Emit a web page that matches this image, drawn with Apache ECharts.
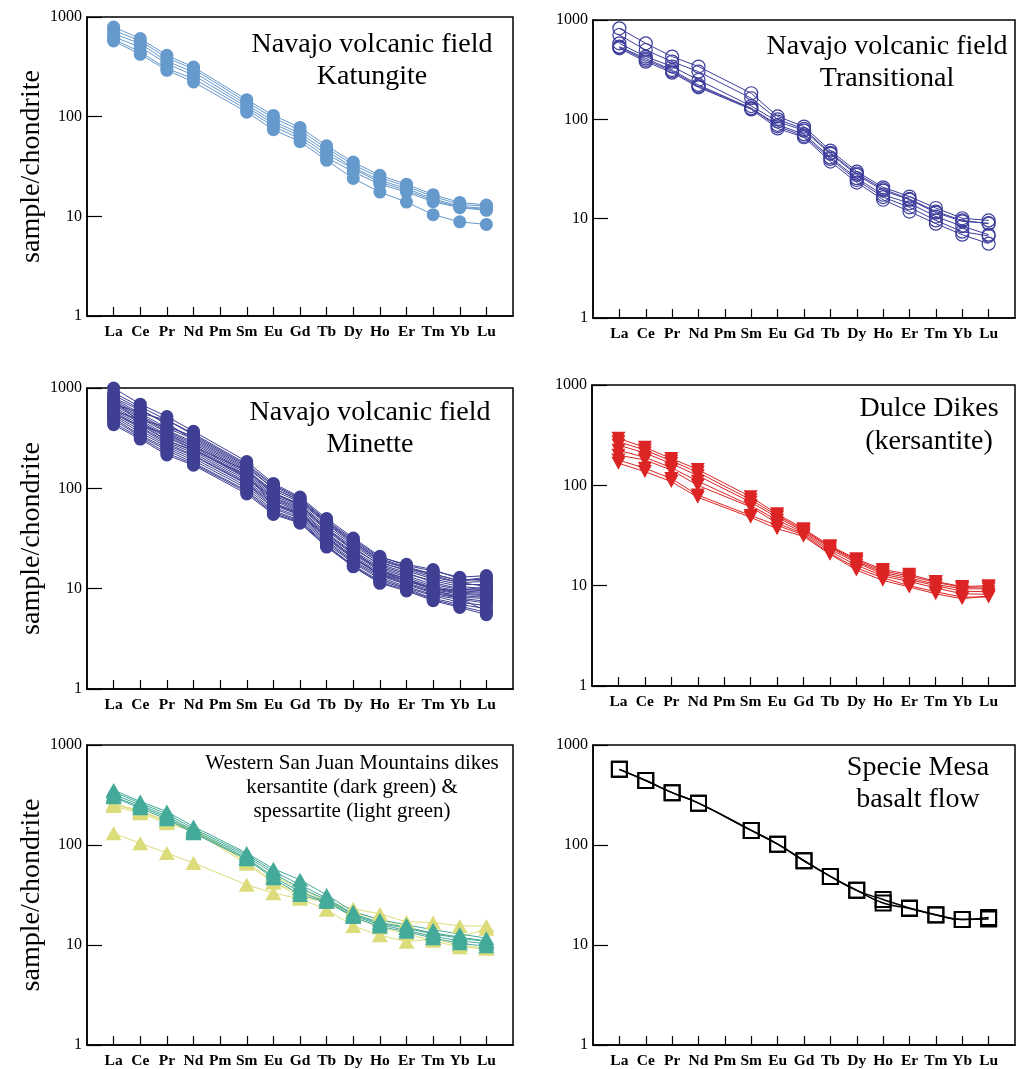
<!DOCTYPE html>
<html><head><meta charset="utf-8">
<script src="https://cdn.jsdelivr.net/npm/echarts@6/dist/echarts.min.js"></script>
<style>html,body{margin:0;padding:0;background:#fff}#c{width:1018px;height:1069px}</style>
</head><body><div id="c"></div>
<script>
// ---- categories & tick labels ----
const axisCats = ['', 'La','Ce','Pr','Nd','Pm','Sm','Eu','Gd','Tb','Dy','Ho','Er','Tm','Yb','Lu', ''];
const ree = ['La','Ce','Pr','Nd','Sm','Eu','Gd','Tb','Dy','Ho','Er','Tm','Yb','Lu'];
const yTickLabels = ['1','10','100','1000'];

// ---- Navajo volcanic field, Katungite ----
const katungite = [
  [794, 607, 413, 315, 148, 103, 78, 51, 35, 25.8, 21, 16.5, 13.8, 13],
  [735, 575, 390, 300, 140, 97, 73, 48, 33, 24.5, 20, 15.8, 13.2, 12.6],
  [681, 540, 360, 280, 132, 90, 68, 45, 31, 23, 19, 15, 12.6, 12],
  [631, 500, 340, 260, 125, 85, 64, 42, 30, 22, 18.2, 14.5, 12.4, 11.7],
  [600, 446, 303, 241, 118, 80, 60, 39, 28, 21, 17.5, 14, 12.2, 11.5],
  [575, 422, 292, 223, 111, 74, 56, 36.5, 24, 17.5, 13.9, 10.4, 8.8, 8.3]
];
// ---- Navajo volcanic field, Transitional ----
const transitional = [
  [825, 582, 428, 340, 183, 107, 84.5, 48.5, 29.8, 20.7, 16.7, 12.8, 10.1, 9.6],
  [706, 499, 381, 302, 163, 100, 80, 46, 28.5, 19.8, 15.8, 11.8, 9.6, 8.9],
  [582, 428, 340, 249, 136, 95, 77, 45, 27.6, 19.2, 15.5, 11.5, 9.4, 9.0],
  [540, 410, 314, 222, 129, 88, 71, 41.5, 25.6, 17.4, 14.3, 10.5, 8.4, 6.9],
  [530, 396, 305, 215, 129, 85, 68, 40, 24.5, 16.5, 13, 9.6, 7.4, 6.7],
  [519, 381, 295, 210, 126, 81, 66, 37.6, 23.1, 15.5, 11.8, 8.9, 6.9, 5.6]
];
// ---- Navajo volcanic field, Minette ----
const minette = [
  [1000, 690, 520, 370, 185, 112, 82, 50, 32, 21, 17, 15, 13, 13.5],
  [900, 650, 480, 340, 170, 105, 78, 47, 30, 20, 16.5, 14, 12, 12.5],
  [850, 620, 430, 320, 160, 100, 75, 45, 29, 19, 16, 13.5, 11.5, 11.8],
  [800, 600, 450, 300, 150, 95, 73, 44, 28, 18.5, 15, 12.5, 11, 11],
  [780, 560, 400, 310, 155, 90, 70, 42, 27, 18, 15.5, 13, 11.5, 10.5],
  [750, 540, 380, 290, 145, 88, 68, 40, 26, 17, 14, 12, 10.5, 10],
  [720, 520, 370, 280, 140, 85, 66, 39, 25, 17.5, 14.5, 11.5, 10, 9.8],
  [700, 500, 360, 270, 135, 82, 64, 38, 24, 16.5, 13.5, 11, 9.8, 9.5],
  [680, 480, 340, 260, 130, 80, 62, 36, 23, 16, 13, 10.5, 9.5, 9.2],
  [650, 460, 330, 250, 128, 78, 60, 35, 22.5, 15.5, 12.5, 10.2, 9.2, 9],
  [620, 450, 320, 245, 125, 76, 58, 34, 22, 15, 12, 10, 9, 8.7],
  [600, 430, 300, 235, 120, 72, 57, 33, 21, 14.5, 12, 9.8, 8.8, 8.5],
  [580, 410, 290, 225, 115, 70, 55, 32, 20.5, 14, 11.5, 9.5, 8.5, 8.2],
  [560, 400, 280, 215, 112, 68, 54, 31, 20, 13.8, 11.2, 9.2, 8.2, 8],
  [540, 380, 270, 210, 110, 65, 52, 30, 19, 13.5, 11, 9, 8, 7.5],
  [520, 360, 260, 200, 105, 63, 50, 29, 18.5, 13, 10.5, 8.7, 7.8, 7.2],
  [500, 340, 250, 190, 100, 60, 48, 28, 18, 12.5, 10.2, 8.5, 7.3, 6.8],
  [480, 330, 240, 180, 95, 58, 47, 27, 17, 12, 10, 8, 7, 6.3],
  [450, 320, 225, 175, 92, 56, 46, 26.5, 16.8, 11.6, 9.7, 7.8, 6.7, 5.8],
  [430, 310, 215, 170, 88, 55, 45, 26, 16.5, 11.3, 9.5, 7.6, 6.5, 5.5],
  [700, 560, 480, 350, 175, 108, 80, 48, 31, 20.5, 17.5, 15.5, 12.5, 12],
  [600, 480, 410, 330, 165, 100, 76, 46, 29, 19.5, 16, 14, 12, 13],
  [760, 450, 300, 240, 135, 70, 56, 33, 20, 14, 12, 10, 9.5, 10.5],
  [550, 420, 350, 260, 150, 90, 68, 40, 24, 15, 12.5, 9.8, 8, 6]
];
// ---- Dulce Dikes (kersantite) ----
const dulce = [
  [294, 239, 185, 144, 77, 52, 37, 25, 18.5, 14.5, 13, 11, 9.8, 10],
  [272, 225, 175, 135, 72, 50, 36, 24.5, 18, 14, 12.5, 10.8, 9.6, 9.7],
  [252, 210, 165, 125, 68, 48, 35, 24, 17.5, 13.5, 12, 10.3, 9.3, 9.3],
  [224, 190, 150, 110, 63, 45, 34, 23, 17, 13, 11.5, 10, 8.8, 8.7],
  [200, 179, 142, 100, 61, 42, 33, 22, 16, 12.5, 11, 9.5, 8.3, 8.2],
  [179, 148, 117, 80, 50, 40, 32, 21, 15, 12, 10, 8.7, 7.7, 7.7],
  [166, 137, 109, 76, 48, 37, 31, 20.6, 14.3, 11.3, 9.7, 8.3, 7.4, 7.9]
];
// ---- Western San Juan Mountains dikes ----
const sanJuanKersantite = [
  [355, 272, 216, 153, 83, 58, 44.8, 31.7, 21.6, 17.9, 15.9, 14.2, 12.9, 11.7],
  [340, 262, 205, 146, 80, 55, 40, 29.4, 20.5, 16.8, 15, 13.2, 12, 11],
  [320, 252, 195, 140, 77, 52, 37, 28.5, 20, 16.5, 14.7, 12.9, 11.7, 10.8],
  [305, 242, 188, 135, 74, 48, 34, 27.2, 19.5, 16, 14, 12.2, 11, 10.3],
  [300, 233, 181, 131, 72, 46.5, 31.7, 27, 19, 15.3, 13.6, 11.7, 10.4, 9.7]
];
const sanJuanSpessartite = [
  [131, 104, 83, 66, 40, 33, 29, 22.5, 15.5, 12.5, 10.8, 11.5, 10, 9.2],
  [255, 215, 172, 140, 68, 43, 30, 27, 23, 20.5, 17, 16.8, 15.5, 15.5],
  [245, 208, 165, 137, 65, 42, 33, 27, 21, 18, 15, 13, 12, 14.5],
  [260, 220, 175, 145, 70, 50, 36, 28, 19, 15, 13, 11, 9.5, 9.2]
];
// ---- Specie Mesa basalt flow ----
const specieMesa = [
  [571, 441, 334, 262, 140, 102, 69.6, 48.5, 35.2, 28.5, 23.5, 20.1, 18, 18.8],
  [571, 441, 334, 262, 140, 102, 69.6, 48.5, 35.2, 26.3, 23.2, 20.0, 18, 18.2]
];

// ---- layout ----
const SERIF = '"Liberation Serif", "DejaVu Serif", serif';
const grids = [
  {left: 87,  top: 17,  width: 426, height: 299},
  {left: 593, top: 20,  width: 427, height: 298},
  {left: 87,  top: 388, width: 426, height: 301},
  {left: 592, top: 385, width: 427, height: 301},
  {left: 87,  top: 745, width: 426, height: 300},
  {left: 593, top: 745, width: 427, height: 300}
];

const option = {
  animation: false,
  backgroundColor: '#fff',
  grid: grids.map(g => Object.assign({show: true, borderColor: '#000', borderWidth: 1.5, backgroundColor: 'transparent'}, g)),
  xAxis: grids.map((g, i) => ({
    type: 'category', gridIndex: i, data: axisCats, boundaryGap: false,
    axisLine: {show: true, lineStyle: {color: '#000', width: 1.5}},
    axisTick: {show: true, inside: true, length: 9, interval: (idx) => idx > 0 && idx < axisCats.length - 1, lineStyle: {color: '#000', width: 1.2}},
    axisLabel: {interval: 0, margin: 8, color: '#000', fontFamily: SERIF, fontWeight: 'bold', fontSize: 15.5},
    splitLine: {show: false}
  })),
  yAxis: grids.map((g, i) => ({
    type: 'log', logBase: 10, gridIndex: i, min: 1, max: 1000,
    name: (i % 2 === 0) ? 'sample/chondrite' : '',
    nameLocation: 'middle', nameGap: 41,
    nameTextStyle: {fontFamily: SERIF, fontSize: 28, color: '#000'},
    axisLine: {show: true, lineStyle: {color: '#000', width: 1.5}},
    axisTick: {show: true, inside: true, length: 15, lineStyle: {color: '#000', width: 1.2}},
    minorTick: {show: false},
    axisLabel: {margin: 5, color: '#000', fontFamily: SERIF, fontSize: 16,
      formatter: v => yTickLabels.find(t => Math.abs(Number(t) - v) < 1e-6 * v) || ''},
    splitLine: {show: false}
  })),
  series: [],
  graphic: []
};

function addGroup(idx, arrays, opts) {
  arrays.forEach(arr => {
    option.series.push({
      type: 'line', xAxisIndex: idx, yAxisIndex: idx,
      data: ree.map((e, k) => [e, arr[k]]),
      symbol: opts.symbol, symbolSize: opts.size, symbolRotate: opts.rotate || 0,
      smooth: opts.smooth || false,
      itemStyle: opts.filled ? {color: opts.color} : {color: 'rgba(0,0,0,0)', borderColor: opts.color, borderWidth: opts.bw || 1.2},
      lineStyle: {color: opts.color, width: opts.lw || 1},
      emphasis: {disabled: true}, silent: true
    });
  });
}
addGroup(0, katungite, {symbol: 'circle', size: 13, filled: true, color: '#6699cc'});
addGroup(1, transitional, {symbol: 'circle', size: 13, filled: false, color: '#3d3d9c', bw: 1.2});
addGroup(2, minette, {symbol: 'circle', size: 13, filled: true, color: '#3f3f94'});
addGroup(3, dulce, {symbol: 'triangle', size: [14, 13], rotate: 180, filled: true, color: '#dc2424'});
addGroup(4, sanJuanSpessartite, {symbol: 'triangle', size: [16, 14], filled: true, color: '#dddc7a'});
addGroup(4, sanJuanKersantite, {symbol: 'triangle', size: [16, 14], filled: true, color: '#44aa99'});
addGroup(5, specieMesa, {symbol: 'rect', size: 15, filled: false, color: '#000', bw: 2, lw: 1.5, smooth: true});

function addText(lines, x, y0, dy, size) {
  lines.forEach((t, k) => option.graphic.push({
    type: 'text', silent: true, z: 100,
    style: {text: t, x: x, y: y0 + k * dy, textAlign: 'center', textVerticalAlign: 'middle', align: 'center', verticalAlign: 'middle',
      font: size + 'px ' + SERIF, fill: '#000'}
  }));
}
addText(['Navajo volcanic field', 'Katungite'], 372, 45, 32, 28);
addText(['Navajo volcanic field', 'Transitional'], 887, 47, 32, 28);
addText(['Navajo volcanic field', 'Minette'], 370, 413, 32, 28);
addText(['Dulce Dikes', '(kersantite)'], 929, 409, 33, 28);
addText(['Western San Juan Mountains dikes', 'kersantite (dark green) &', 'spessartite (light green)'], 352, 763, 24, 21);
addText(['Specie Mesa', 'basalt flow'], 918, 768, 32, 28);

const chart = echarts.init(document.getElementById('c'), null, {renderer: 'canvas'});
chart.setOption(option);
</script></body></html>
